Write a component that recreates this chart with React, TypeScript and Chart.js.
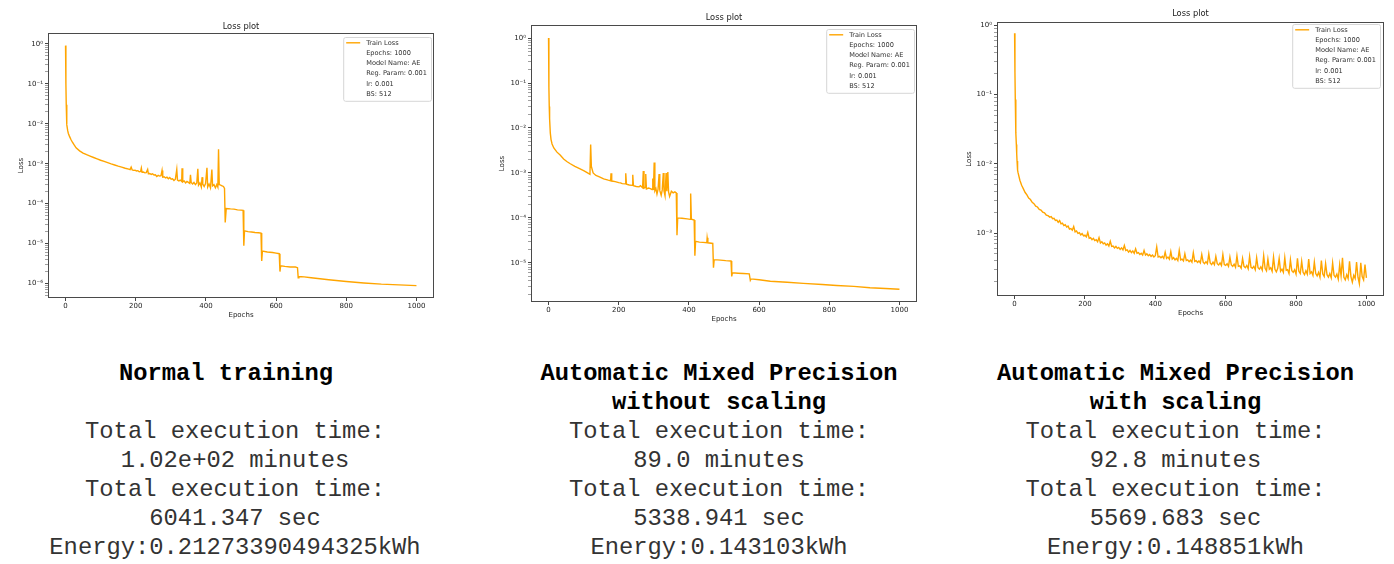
import React, { useEffect, useRef } from "react";
import { Chart, registerables } from "chart.js";

Chart.register(...registerables);

// ---------------- data ----------------
const LEGEND_LABELS = ["Train Loss", "Epochs: 1000", "Model Name: AE", "Reg. Param: 0.001", "lr: 0.001", "BS: 512"];
const X_TICKS = [0, 200, 400, 600, 800, 1000];

// Normal training
const normalEpochs = [
  0, 1, 2, 3, 4, 6, 8, 11, 15, 20, 25, 30, 40, 50, 60, 70, 80, 90, 100, 110, 120, 130, 140, 150, 160, 170,
  180, 184, 187, 190, 194, 198, 202, 206, 210, 214, 216, 218, 222, 226, 230, 234, 236, 240, 244, 248, 252, 256,
  260, 264, 268, 272, 275, 277, 281, 285, 289, 293, 297, 301, 305, 309, 313, 317, 319, 323, 327, 331, 332, 334,
  338, 342, 346, 350, 354, 356, 358, 362, 366, 370, 374, 377, 379, 383, 387, 389, 391, 395, 399, 403, 405, 409,
  413, 417, 419, 423, 427, 431, 434, 436, 438, 442, 446, 450, 453, 455, 458, 470, 480, 490, 500, 506,
  508, 510, 520, 530, 540, 550, 557, 559, 561, 575, 590, 600, 609, 611, 613, 625, 640, 655, 661,
  663, 665, 680, 700, 750, 800, 850, 900, 950, 1000,
];
const normalLoss = [
  0.9, 0.1, 0.03, 0.015, 0.0095, 0.0068, 0.0057, 0.0049, 0.0041, 0.0034, 0.0029, 0.0025, 0.0021, 0.00185, 0.00168,
  0.00155, 0.00143, 0.00132, 0.00122, 0.00114, 0.00106, 0.00099, 0.00093, 0.00087, 0.00082, 0.00077,
  7.3e-4, 7.1e-4, 8.2e-4, 7.0e-4, 6.8e-4, 6.9e-4, 6.6e-4, 6.7e-4, 6.3e-4, 6.4e-4, 7.8e-4, 6.1e-4, 6.2e-4, 5.9e-4,
  6.0e-4, 7.2e-4, 5.6e-4, 5.7e-4, 5.4e-4, 5.6e-4, 5.2e-4, 5.3e-4,
  4.8e-4, 5.1e-4, 4.9e-4, 5.0e-4, 6.8e-4, 4.6e-4, 4.7e-4, 4.4e-4, 4.6e-4, 4.2e-4, 4.5e-4, 4.1e-4, 4.2e-4, 3.8e-4,
  4.1e-4, 7.2e-4, 3.9e-4, 3.7e-4, 3.9e-4, 3.6e-4, 7.7e-4, 3.5e-4,
  3.7e-4, 3.3e-4, 3.6e-4, 3.4e-4, 3.2e-4, 5.3e-4, 3.4e-4, 3.1e-4, 3.4e-4, 3.0e-4, 3.3e-4, 7.5e-4, 2.9e-4, 3.3e-4,
  2.6e-4, 4.6e-4, 3.1e-4, 2.7e-4, 3.2e-4, 7.9e-4, 2.6e-4, 3.1e-4,
  2.5e-4, 7.1e-4, 2.8e-4, 3.0e-4, 2.5e-4, 3.0e-4, 2.6e-4, 2.3e-3, 3.0e-4, 2.9e-4, 2.8e-4, 2.7e-4, 2.4e-4, 3.4e-5,
  7.6e-5, 7.4e-5, 7.3e-5, 7.0e-5, 6.9e-5, 6.8e-5,
  8.9e-6, 2.1e-5, 2.0e-5, 1.95e-5, 1.9e-5, 1.88e-5, 1.84e-5, 3.7e-6, 6.5e-6, 6.2e-6, 6.0e-6, 5.8e-6, 5.6e-6,
  2.0e-6, 2.8e-6, 2.7e-6, 2.6e-6, 2.6e-6, 2.5e-6,
  1.4e-6, 1.5e-6, 1.47e-6, 1.4e-6, 1.25e-6, 1.13e-6, 1.04e-6, 0.97e-6, 0.93e-6, 0.89e-6,
];

// Automatic Mixed Precision without scaling
const ampNoScaleEpochs = [
  0, 1, 2, 3, 5, 7, 10, 15, 24, 33, 43, 52, 62, 75, 90, 100, 110, 118, 120, 122, 127, 135, 145, 157, 170, 177,
  178, 180, 190, 200, 205, 210, 219, 220, 222, 230, 239, 240, 242, 250, 258, 262, 268, 270, 272, 276, 277, 279,
  285, 290, 295, 297, 299, 301, 303, 306, 309, 312, 315, 317, 321, 324, 327, 329, 332, 335, 337, 340, 342, 345,
  350, 355, 360, 364, 366, 368, 380, 395, 404, 405, 407, 415, 417, 419, 430, 440, 451, 452, 454, 468, 470, 472,
  490, 505, 520, 522, 524, 540, 555, 572, 575, 577, 600, 632, 680, 726, 780, 821, 870, 916, 960, 1000,
];
const ampNoScaleLoss = [
  1.0, 0.08, 0.03, 0.016, 0.0078, 0.0056, 0.0044, 0.0036, 0.0029, 0.0025, 0.00205, 0.0018, 0.0016, 0.0014,
  0.00123, 0.00113, 0.00102, 0.00093, 0.0043, 0.0014, 0.001, 0.00088, 0.00082, 0.00074, 0.00069, 0.00067,
  0.00098, 0.00066, 0.00064, 0.00061, 0.0006, 0.00058, 0.00057, 0.00098, 0.00056, 0.00054, 0.00053, 0.00091,
  0.00052, 0.0005, 0.00049, 0.00052, 0.00047, 0.0011, 0.00046, 0.00048, 0.00095, 0.00044,
  0.00046, 0.00045, 0.00043, 0.00075, 0.00042, 0.0017, 0.0004, 0.00045, 0.00034, 0.00043, 0.00095, 0.00041,
  0.00032, 0.00042, 0.001, 0.0004, 0.00031, 0.001, 0.00039, 0.00105, 0.00038, 0.0003,
  0.00039, 0.00036, 0.00038, 0.00036, 0.000041, 0.0001, 0.000098, 0.000095, 0.000093, 0.00035, 0.000094, 0.00009,
  0.0000145, 0.00003, 0.000029, 0.0000285, 0.000028, 0.000036, 0.000028, 0.000027, 0.0000078, 0.0000118,
  0.0000115, 0.0000112, 0.000011, 0.000005, 0.000006, 0.0000059, 0.0000058, 0.0000057, 0.0000041, 0.0000044,
  0.0000042, 0.0000039, 0.0000037, 0.0000035, 0.0000033, 0.00000315, 0.000003, 0.0000028, 0.0000027, 0.0000026,
];

// Automatic Mixed Precision with scaling
const ampScaleEpochs = [
  0, 1, 2, 3, 4, 5, 6, 7, 8, 9, 10,
  15, 20, 25, 30, 35, 40, 45, 50, 55, 60, 65, 70, 75, 80, 85, 90, 95,
  100, 104, 108, 112, 116, 120, 124, 128, 132, 136,
  140, 144, 148, 152, 156, 160, 164, 168, 172, 176,
  180, 184, 188, 192, 196, 200, 204, 208, 212, 216,
  220, 224, 228, 232, 236, 240, 244, 248, 252, 256,
  260, 264, 268, 272, 276, 280, 284, 288, 292, 296,
  300, 304, 308, 312, 316, 320, 324, 328, 332, 336,
  340, 344, 348, 352, 356, 360, 364, 368, 372, 376,
  380, 384, 388, 392, 396, 400, 404, 408, 412, 416,
  420, 424, 428, 432, 436, 440, 444, 448, 452, 456,
  460, 464, 468, 472, 476, 480, 484, 488, 492, 496,
  500, 504, 508, 512, 516, 520, 524, 528, 532, 536,
  540, 544, 548, 552, 556, 560, 564, 568, 572, 576,
  580, 584, 588, 592, 596, 600, 604, 608, 612, 616,
  620, 624, 628, 632, 636, 640, 644, 648, 652, 656,
  660, 664, 668, 672, 676, 680, 684, 688, 692, 696,
  700, 704, 708, 712, 716, 720, 724, 728, 732, 736,
  740, 744, 748, 752, 756, 760, 764, 768, 772, 776,
  780, 784, 788, 792, 796, 800, 804, 808, 812, 816,
  820, 824, 828, 832, 836, 840, 844, 848, 852, 856,
  860, 864, 868, 872, 876, 880, 884, 888, 892, 896,
  900, 904, 908, 912, 916, 920, 924, 928, 932, 936,
  940, 944, 948, 952, 956, 960, 964, 968, 972, 976,
  980, 984, 988, 992, 996, 1000,
];
const ampScaleLoss = [
  0.77, 0.21, 0.085, 0.045, 0.028, 0.019, 0.014, 0.011, 0.0092, 0.0081, 0.0074,
  5.8e-3, 4.9e-3, 4.35e-3, 3.85e-3, 3.55e-3, 3.2e-3, 3.05e-3, 2.78e-3, 2.66e-3, 2.45e-3, 2.38e-3, 2.2e-3, 2.15e-3,
  2.0e-3, 1.96e-3, 1.82e-3, 1.78e-3,
  17.0e-4, 17.3e-4, 16.1e-4, 16.3e-4, 15.2e-4, 15.4e-4, 14.3e-4, 15.1e-4, 13.6e-4, 13.9e-4,
  12.8e-4, 13.2e-4, 12.2e-4, 12.6e-4, 11.4e-4, 11.6e-4, 11.0e-4, 12.4e-4, 10.4e-4, 10.7e-4,
  9.9e-4, 10.1e-4, 9.4e-4, 9.8e-4, 9.1e-4, 9.3e-4, 8.8e-4, 10.2e-4, 8.4e-4, 8.6e-4,
  8.0e-4, 8.4e-4, 7.8e-4, 8.0e-4, 7.5e-4, 8.6e-4, 7.2e-4, 7.5e-4, 7.0e-4, 7.2e-4,
  6.7e-4, 7.0e-4, 6.5e-4, 7.6e-4, 6.4e-4, 6.5e-4, 6.1e-4, 6.4e-4, 6.0e-4, 6.2e-4,
  5.8e-4, 6.1e-4, 5.7e-4, 6.6e-4, 5.6e-4, 5.7e-4, 5.3e-4, 5.6e-4, 5.2e-4, 5.5e-4,
  5.1e-4, 5.9e-4, 5.1e-4, 5.2e-4, 4.9e-4, 5.1e-4, 4.8e-4, 5.6e-4, 4.8e-4, 5.0e-4,
  4.7e-4, 4.9e-4, 4.6e-4, 4.8e-4, 4.5e-4, 4.7e-4, 6.3e-4, 4.5e-4, 4.6e-4, 4.4e-4,
  4.6e-4, 4.3e-4, 5.3e-4, 4.3e-4, 4.5e-4, 4.2e-4, 5.4e-4, 4.2e-4, 4.4e-4, 4.1e-4,
  4.3e-4, 4.0e-4, 5.6e-4, 4.1e-4, 4.2e-4, 3.95e-4, 5.0e-4, 4.0e-4, 4.1e-4, 3.85e-4,
  4.05e-4, 3.8e-4, 5.2e-4, 3.9e-4, 4.0e-4, 3.75e-4, 3.95e-4, 3.7e-4, 4.9e-4, 3.8e-4,
  3.6e-4, 3.85e-4, 3.6e-4, 5.0e-4, 3.7e-4, 3.5e-4, 3.8e-4, 3.5e-4, 4.6e-4, 3.6e-4,
  3.45e-4, 3.7e-4, 3.4e-4, 4.9e-4, 3.5e-4, 3.4e-4, 3.6e-4, 3.3e-4, 4.5e-4, 3.45e-4,
  3.3e-4, 3.55e-4, 3.2e-4, 4.7e-4, 3.3e-4, 3.35e-4, 3.1e-4, 4.3e-4, 3.3e-4, 3.15e-4,
  3.4e-4, 3.05e-4, 4.6e-4, 3.2e-4, 3.1e-4, 3.3e-4, 2.95e-4, 4.4e-4, 3.15e-4, 3.0e-4,
  3.25e-4, 2.9e-4, 4.7e-4, 3.1e-4, 2.85e-4, 4.2e-4, 3.0e-4, 3.15e-4, 2.8e-4, 4.5e-4,
  3.0e-4, 2.75e-4, 3.1e-4, 4.3e-4, 2.8e-4, 3.0e-4, 2.7e-4, 4.4e-4, 2.9e-4, 2.95e-4,
  2.6e-4, 4.1e-4, 2.85e-4, 2.7e-4, 2.95e-4, 2.55e-4, 4.3e-4, 2.8e-4, 2.6e-4, 3.9e-4,
  2.7e-4, 2.5e-4, 2.85e-4, 2.55e-4, 4.2e-4, 2.6e-4, 2.75e-4, 2.45e-4, 3.8e-4, 2.6e-4,
  2.4e-4, 2.7e-4, 2.3e-4, 4.0e-4, 2.55e-4, 2.35e-4, 3.6e-4, 2.5e-4, 2.3e-4, 2.6e-4,
  2.25e-4, 3.7e-4, 2.45e-4, 2.3e-4, 2.55e-4, 2.15e-4, 3.5e-4, 2.4e-4, 4.4e-4, 2.3e-4,
  2.1e-4, 2.5e-4, 2.2e-4, 3.9e-4, 2.35e-4, 1.95e-4, 2.45e-4, 2.2e-4, 3.8e-4, 2.3e-4,
  1.85e-4, 3.7e-4, 2.35e-4, 2.1e-4, 3.5e-4, 2.25e-4,
];

// text under the plots
const col1Lines = ["Normal training", "", "Total execution time:", "1.02e+02 minutes", "Total execution time:", "6041.347 sec", "Energy:0.21273390494325kWh"];
const col2Lines = ["Automatic Mixed Precision", "without scaling", "Total execution time:", "89.0 minutes", "Total execution time:", "5338.941 sec", "Energy:0.143103kWh"];
const col3Lines = ["Automatic Mixed Precision", "with scaling", "Total execution time:", "92.8 minutes", "Total execution time:", "5569.683 sec", "Energy:0.148851kWh"];

// ---------------- layout / style ----------------
const ORANGE = "#FFA500";
const TICK_FONT = { family: "'DejaVu Sans'", size: 7 };

type Geo = {
  left: number; width: number; height: number;
  L: number; R: number; T: number; B: number;
  titleY: number; lossX: number; epochsY: number;
  yMinExp: number; yMaxExp: number; legendTop: number; legendRight: number;
};

const GEOS: Geo[] = [
  { left: 0, width: 460, height: 330, L: 48, R: 434, T: 33, B: 298, titleY: 27, lossX: 21, epochsY: 315, yMinExp: -6.36, yMaxExp: 0.27, legendTop: 4, legendRight: 3 },
  { left: 470, width: 460, height: 330, L: 61, R: 447, T: 25, B: 302, titleY: 18, lossX: 32, epochsY: 319, yMinExp: -5.87, yMaxExp: 0.29, legendTop: 4, legendRight: 3 },
  { left: 930, width: 464, height: 330, L: 67, R: 454, T: 22, B: 296, titleY: 14, lossX: 39, epochsY: 313, yMinExp: -3.91, yMaxExp: 0.05, legendTop: 2, legendRight: 4 },
];

const SERIES = [
  { epochs: normalEpochs, loss: normalLoss },
  { epochs: ampNoScaleEpochs, loss: ampNoScaleLoss },
  { epochs: ampScaleEpochs, loss: ampScaleLoss },
];

const SUP: Record<string, string> = { "-": "\u207B", "0": "\u2070", "1": "\u00B9", "2": "\u00B2", "3": "\u00B3", "4": "\u2074", "5": "\u2075", "6": "\u2076", "7": "\u2077", "8": "\u2078", "9": "\u2079" };
const supLabel = (e: number) => "10" + String(e).split("").map((c) => SUP[c] || c).join("");
const isMajor = (v: number) => Math.abs(Math.log10(v) - Math.round(Math.log10(v))) < 1e-6;

function logTicks(minExp: number, maxExp: number) {
  const out: { value: number }[] = [];
  for (let e = Math.floor(minExp); e <= Math.ceil(maxExp); e++) {
    for (let k = 1; k <= 9; k++) {
      const v = k * Math.pow(10, e);
      const lv = Math.log10(v);
      if (lv >= minExp - 1e-9 && lv <= maxExp + 1e-9) out.push({ value: v });
    }
  }
  return out;
}

const decorPlugin = {
  id: "decor",
  afterDraw(chart: any, _args: any, opts: any) {
    const g: Geo = opts.geo;
    const { ctx, chartArea: a } = chart;
    ctx.save();
    // frame
    ctx.strokeStyle = "#4a4a4a";
    ctx.lineWidth = 1;
    ctx.strokeRect(a.left + 0.5, a.top + 0.5, a.right - a.left - 1, a.bottom - a.top - 1);
    // titles
    ctx.fillStyle = "#222";
    ctx.textAlign = "center";
    ctx.textBaseline = "middle";
    ctx.font = "8.3px 'DejaVu Sans'";
    ctx.fillText("Loss plot", (a.left + a.right) / 2, g.titleY);
    ctx.font = "7px 'DejaVu Sans'";
    ctx.fillText("Epochs", (a.left + a.right) / 2, g.epochsY);
    ctx.save();
    ctx.translate(g.lossX, (a.top + a.bottom) / 2);
    ctx.rotate(-Math.PI / 2);
    ctx.fillText("Loss", 0, 0);
    ctx.restore();
    // legend
    ctx.font = "6.6px 'DejaVu Sans'";
    const tw = Math.max(...LEGEND_LABELS.map((t) => ctx.measureText(t).width));
    const rowH = 10.3;
    const bw = 23 + tw + 4;
    const bh = rowH * LEGEND_LABELS.length + 2;
    const bx = a.right - g.legendRight - bw;
    const by = a.top + g.legendTop;
    ctx.beginPath();
    if (ctx.roundRect) ctx.roundRect(bx + 0.5, by + 0.5, bw, bh, 2);
    else ctx.rect(bx + 0.5, by + 0.5, bw, bh);
    ctx.fillStyle = "rgba(255,255,255,0.85)";
    ctx.fill();
    ctx.strokeStyle = "#d6d6d6";
    ctx.lineWidth = 1;
    ctx.stroke();
    ctx.strokeStyle = ORANGE;
    ctx.lineWidth = 1.4;
    ctx.beginPath();
    ctx.moveTo(bx + 3, by + 5.8);
    ctx.lineTo(bx + 17, by + 5.8);
    ctx.stroke();
    ctx.fillStyle = "#333";
    ctx.textAlign = "left";
    LEGEND_LABELS.forEach((t, i) => ctx.fillText(t, bx + 23, by + 5.8 + i * rowH));
    ctx.restore();
  },
};

function LossChart({ idx }: { idx: number }) {
  const ref = useRef<HTMLCanvasElement>(null);
  const g = GEOS[idx];
  useEffect(() => {
    const s = SERIES[idx];
    const xAxisH = 20;
    const chart = new Chart(ref.current as HTMLCanvasElement, {
      type: "line",
      data: {
        datasets: [
          {
            label: "Train Loss",
            data: s.epochs.map((x, i) => ({ x, y: s.loss[i] })),
            borderColor: ORANGE,
            borderWidth: 1.4,
            pointRadius: 0,
            tension: 0,
            fill: false,
          },
        ],
      },
      options: {
        responsive: false,
        animation: false,
        events: [],
        layout: { padding: { left: 0, top: g.T, right: g.width - g.R, bottom: g.height - g.B - xAxisH } },
        plugins: {
          legend: { display: false },
          title: { display: false },
          tooltip: { enabled: false },
          decor: { geo: g },
        } as any,
        scales: {
          x: {
            type: "linear",
            min: -50,
            max: 1050,
            afterBuildTicks: (sc: any) => { sc.ticks = X_TICKS.map((v) => ({ value: v })); },
            afterFit: (sc: any) => { sc.height = xAxisH; },
            ticks: { font: TICK_FONT, color: "#222", padding: 1, maxRotation: 0, autoSkip: false, callback: (v: any) => String(v) },
            grid: { drawOnChartArea: false, drawTicks: true, tickLength: 3, tickColor: "#444", tickWidth: 1 },
            border: { display: false },
          },
          y: {
            type: "logarithmic",
            min: Math.pow(10, g.yMinExp),
            max: Math.pow(10, g.yMaxExp),
            afterBuildTicks: (sc: any) => { sc.ticks = logTicks(g.yMinExp, g.yMaxExp); },
            afterFit: (sc: any) => { sc.width = g.L; },
            ticks: {
              font: TICK_FONT,
              color: "#222",
              padding: 2,
              autoSkip: false,
              callback: (v: any) => (isMajor(Number(v)) ? supLabel(Math.round(Math.log10(Number(v)))) : ""),
            },
            grid: {
              drawOnChartArea: false,
              drawTicks: true,
              tickLength: 3,
              tickColor: (c: any) => (c.tick && isMajor(c.tick.value) ? "#444" : "#777"),
              tickWidth: (c: any) => (c.tick && isMajor(c.tick.value) ? 1 : 0.7),
            },
            border: { display: false },
          },
        },
      } as any,
      plugins: [decorPlugin],
    });
    return () => chart.destroy();
  }, [idx]);
  return (
    <canvas
      ref={ref}
      width={g.width}
      height={g.height}
      style={{ position: "absolute", left: g.left, top: 0, width: g.width, height: g.height }}
    />
  );
}

const TEXT_COLS = [
  { center: 235, headCenter: 226, lines: col1Lines },
  { center: 719, headCenter: 719, lines: col2Lines },
  { center: 1175.5, headCenter: 1175.5, lines: col3Lines },
];

export default function App() {
  const fontSize = 23.8;
  const lineH = 28.9;
  const firstBaseline = 381;
  const baseOff = (lineH - 1.133 * fontSize) / 2 + 0.833 * fontSize;
  return (
    <div style={{ position: "absolute", left: 0, top: 0, width: 1394, height: 564, background: "#fff", overflow: "hidden" }}>
      {GEOS.map((_, i) => (
        <LossChart key={i} idx={i} />
      ))}
      {TEXT_COLS.map((col, ci) =>
        col.lines.map((t, i) => {
          const c = i < 2 ? col.headCenter : col.center;
          return (
            <div
              key={ci + "-" + i}
              style={{
                position: "absolute",
                left: c - 300,
                width: 600,
                top: firstBaseline + i * lineH - baseOff,
                height: lineH,
                lineHeight: lineH + "px",
                textAlign: "center",
                whiteSpace: "pre",
                fontFamily: "'Liberation Mono', 'Courier New', monospace",
                fontSize: fontSize,
                fontWeight: i < 2 ? "bold" : "normal",
                color: i < 2 ? "#000" : "#333",
              }}
            >
              {t}
            </div>
          );
        })
      )}
    </div>
  );
}
